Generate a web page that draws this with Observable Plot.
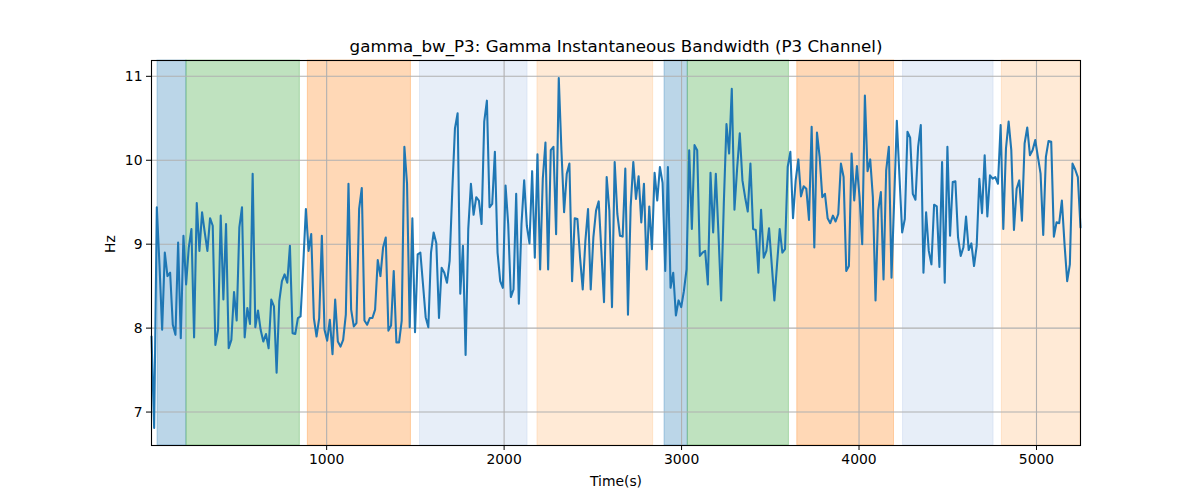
<!DOCTYPE html>
<html>
<head>
<meta charset="utf-8">
<script src="https://cdn.jsdelivr.net/npm/d3@7"></script>
<script src="https://cdn.jsdelivr.net/npm/@observablehq/plot@0.6"></script>
<style>
  html, body { margin: 0; padding: 0; background: white; }
  #chart { width: 1200px; height: 500px; }
</style>
</head>
<body>
<div id="chart"></div>
<script>
// ---- data ----
const titleText = "gamma_bw_P3: Gamma Instantaneous Bandwidth (P3 Channel)";
const xLabel = "Time(s)";
const yLabel = "Hz";
const xTicks = [1000, 2000, 3000, 4000, 5000];
const yTicks = [7, 8, 9, 10, 11];

// sampling grid of the series (seconds)
const tStart = 13;
const tStep = 15;

const bandwidth = [
  7.9, 6.81, 9.44, 8.75, 7.98, 8.90, 8.62, 8.66, 8.04, 7.92,
  9.02, 7.88, 9.10, 8.52, 8.96, 9.18, 7.89, 9.49, 8.92, 9.38,
  9.14, 8.92, 9.31, 9.22, 7.80, 7.98, 9.34, 8.34, 9.24, 7.76,
  7.86, 8.43, 8.09, 9.20, 9.44, 7.89, 8.24, 8.05, 9.84, 8.01,
  8.21, 7.98, 7.84, 7.93, 7.76, 8.34, 8.26, 7.47, 8.32, 8.56,
  8.64, 8.54, 8.98, 7.94, 7.93, 8.12, 8.14, 8.75, 9.42, 8.92,
  9.12, 8.12, 7.90, 8.12, 9.10, 7.98, 7.85, 8.10, 7.69, 8.34,
  7.84, 7.78, 7.86, 8.16, 9.72, 8.22, 8.02, 8.06, 9.42, 9.67,
  8.09, 8.04, 8.12, 8.12, 8.22, 8.81, 8.62, 8.96, 9.08, 7.97,
  8.03, 8.68, 7.83, 7.83, 8.09, 10.16, 9.72, 8.01, 9.31, 7.95,
  8.88, 8.90, 8.52, 8.13, 8.01, 8.90, 9.14, 9.01, 8.12, 8.72,
  8.66, 8.54, 8.80, 9.64, 10.38, 10.56, 8.41, 8.98, 7.68, 9.18,
  9.72, 9.35, 9.56, 9.52, 9.24, 10.46, 10.71, 9.44, 9.48, 10.10,
  8.90, 8.56, 8.48, 9.70, 9.24, 8.37, 8.46, 9.60, 8.29, 9.24,
  9.76, 9.22, 9.01, 9.87, 8.84, 10.07, 8.70, 9.78, 10.21, 8.70,
  10.12, 10.16, 9.12, 10.98, 10.12, 9.38, 9.84, 9.96, 8.56, 9.31,
  9.30, 8.84, 8.46, 9.04, 9.42, 8.46, 9.08, 9.40, 9.51, 8.92,
  8.31, 9.80, 9.40, 8.25, 9.98, 9.36, 9.10, 9.09, 9.90, 8.16,
  9.44, 9.98, 9.54, 9.81, 9.26, 9.72, 8.70, 9.45, 8.94, 9.85,
  9.52, 9.92, 9.73, 8.68, 9.92, 8.48, 8.66, 8.15, 8.33, 8.25,
  8.44, 8.70, 10.12, 9.18, 10.18, 10.12, 8.86, 8.90, 8.92, 8.52,
  9.85, 9.14, 9.84, 9.12, 8.33, 9.48, 10.43, 10.08, 10.85, 9.41,
  9.90, 10.32, 9.76, 9.56, 9.39, 9.96, 9.18, 9.17, 8.66, 9.41,
  8.84, 8.92, 9.19, 8.76, 8.33, 8.76, 9.18, 8.90, 8.94, 9.92,
  10.10, 9.31, 9.76, 10.01, 9.57, 9.69, 9.66, 9.29, 10.40, 8.96,
  10.33, 10.04, 9.56, 9.60, 9.31, 9.25, 9.34, 9.27, 9.36, 9.96,
  9.80, 8.68, 8.74, 10.08, 9.52, 9.93, 9.56, 9.00, 10.77, 9.87,
  10.01, 9.56, 8.33, 9.40, 9.62, 8.58, 9.88, 10.16, 8.60, 9.52,
  10.47, 9.80, 9.14, 9.30, 10.34, 10.27, 9.60, 9.53, 10.16, 10.42,
  8.66, 9.38, 8.92, 8.76, 9.47, 9.45, 8.73, 9.98, 8.54, 10.16,
  9.10, 9.74, 9.75, 9.08, 8.86, 8.96, 9.33, 8.93, 9.01, 8.74,
  8.98, 9.78, 9.37, 10.06, 9.33, 9.82, 9.78, 9.80, 9.72, 10.42,
  9.18, 10.14, 10.46, 10.12, 9.17, 9.66, 9.76, 9.28, 10.20, 10.39,
  10.06, 10.12, 10.24, 10.04, 9.84, 9.11, 10.04, 10.23, 10.22, 9.09,
  9.26, 9.25, 9.52, 9.00, 8.56, 8.76, 9.96, 9.89, 9.80, 9.20
];

// shaded state intervals (seconds)
const bandStart = [47, 210, 894, 1526, 2188, 2904, 3035, 3652, 4248, 4805];
const bandEnd   = [210, 849, 1475, 2132, 2840, 3035, 3605, 4197, 4758, 5248];
const bandKind  = ["blue", "green", "orange", "lightblue", "lightorange",
                   "blue", "green", "orange", "lightblue", "lightorange"];
const kindColor = {
  blue: "#1f77b4", green: "#2ca02c", orange: "#ff7f0e",
  lightblue: "#aec7e8", lightorange: "#ffbb78"
};

// ---- build ----
const series = bandwidth.map((v, i) => ({t: tStart + i * tStep, v}));
const bands = bandStart.map((s, i) => ({x1: s, x2: bandEnd[i], color: kindColor[bandKind[i]]}));
const tMin = series[0].t, tMax = series[series.length - 1].t;
const vMin = d3.min(bandwidth), vMax = d3.max(bandwidth);
const pad = (vMax - vMin) * 0.05;

const font = "DejaVu Sans, sans-serif";

const chart = Plot.plot({
  width: 1200,
  height: 500,
  marginLeft: 151,
  marginRight: 120,
  marginTop: 60,
  marginBottom: 55,
  style: {fontFamily: font, fontSize: "13.9px", background: "white", color: "black", overflow: "visible"},
  x: {domain: [tMin, tMax]},
  y: {domain: [vMin - pad, vMax + pad]},
  marks: [
    Plot.rect(bands, {
      x1: "x1", x2: "x2",
      fill: "color", fillOpacity: 0.3,
      stroke: "color", strokeOpacity: 0.3, strokeWidth: 1
    }),
    Plot.gridX(xTicks, {stroke: "#b0b0b0", strokeOpacity: 1, strokeWidth: 1.1}),
    Plot.gridY(yTicks, {stroke: "#b0b0b0", strokeOpacity: 1, strokeWidth: 1.1}),
    Plot.line(series, {x: "t", y: "v", stroke: "#1f77b4", strokeWidth: 2.08}),
    Plot.frame({stroke: "black", strokeWidth: 1.1}),
    Plot.axisX(xTicks, {tickSize: 5, tickPadding: 4, label: null, fontSize: 13.9, tickFormat: d => String(d)}),
    Plot.axisY(yTicks, {tickSize: 5, tickPadding: 4, label: null, fontSize: 13.9, tickFormat: d => String(d)}),
    Plot.text([xLabel], {frameAnchor: "bottom", lineAnchor: "middle", dy: 36, text: d => d, fontSize: 13.9, fill: "black"}),
    Plot.text([yLabel], {frameAnchor: "left", lineAnchor: "middle", dx: -41, rotate: -90, text: d => d, fontSize: 13.9, fill: "black"}),
    Plot.text([titleText], {frameAnchor: "top", lineAnchor: "middle", dy: -14, text: d => d, fontSize: 16.7, fill: "black"})
  ]
});

document.getElementById("chart").appendChild(chart);
</script>
</body>
</html>
